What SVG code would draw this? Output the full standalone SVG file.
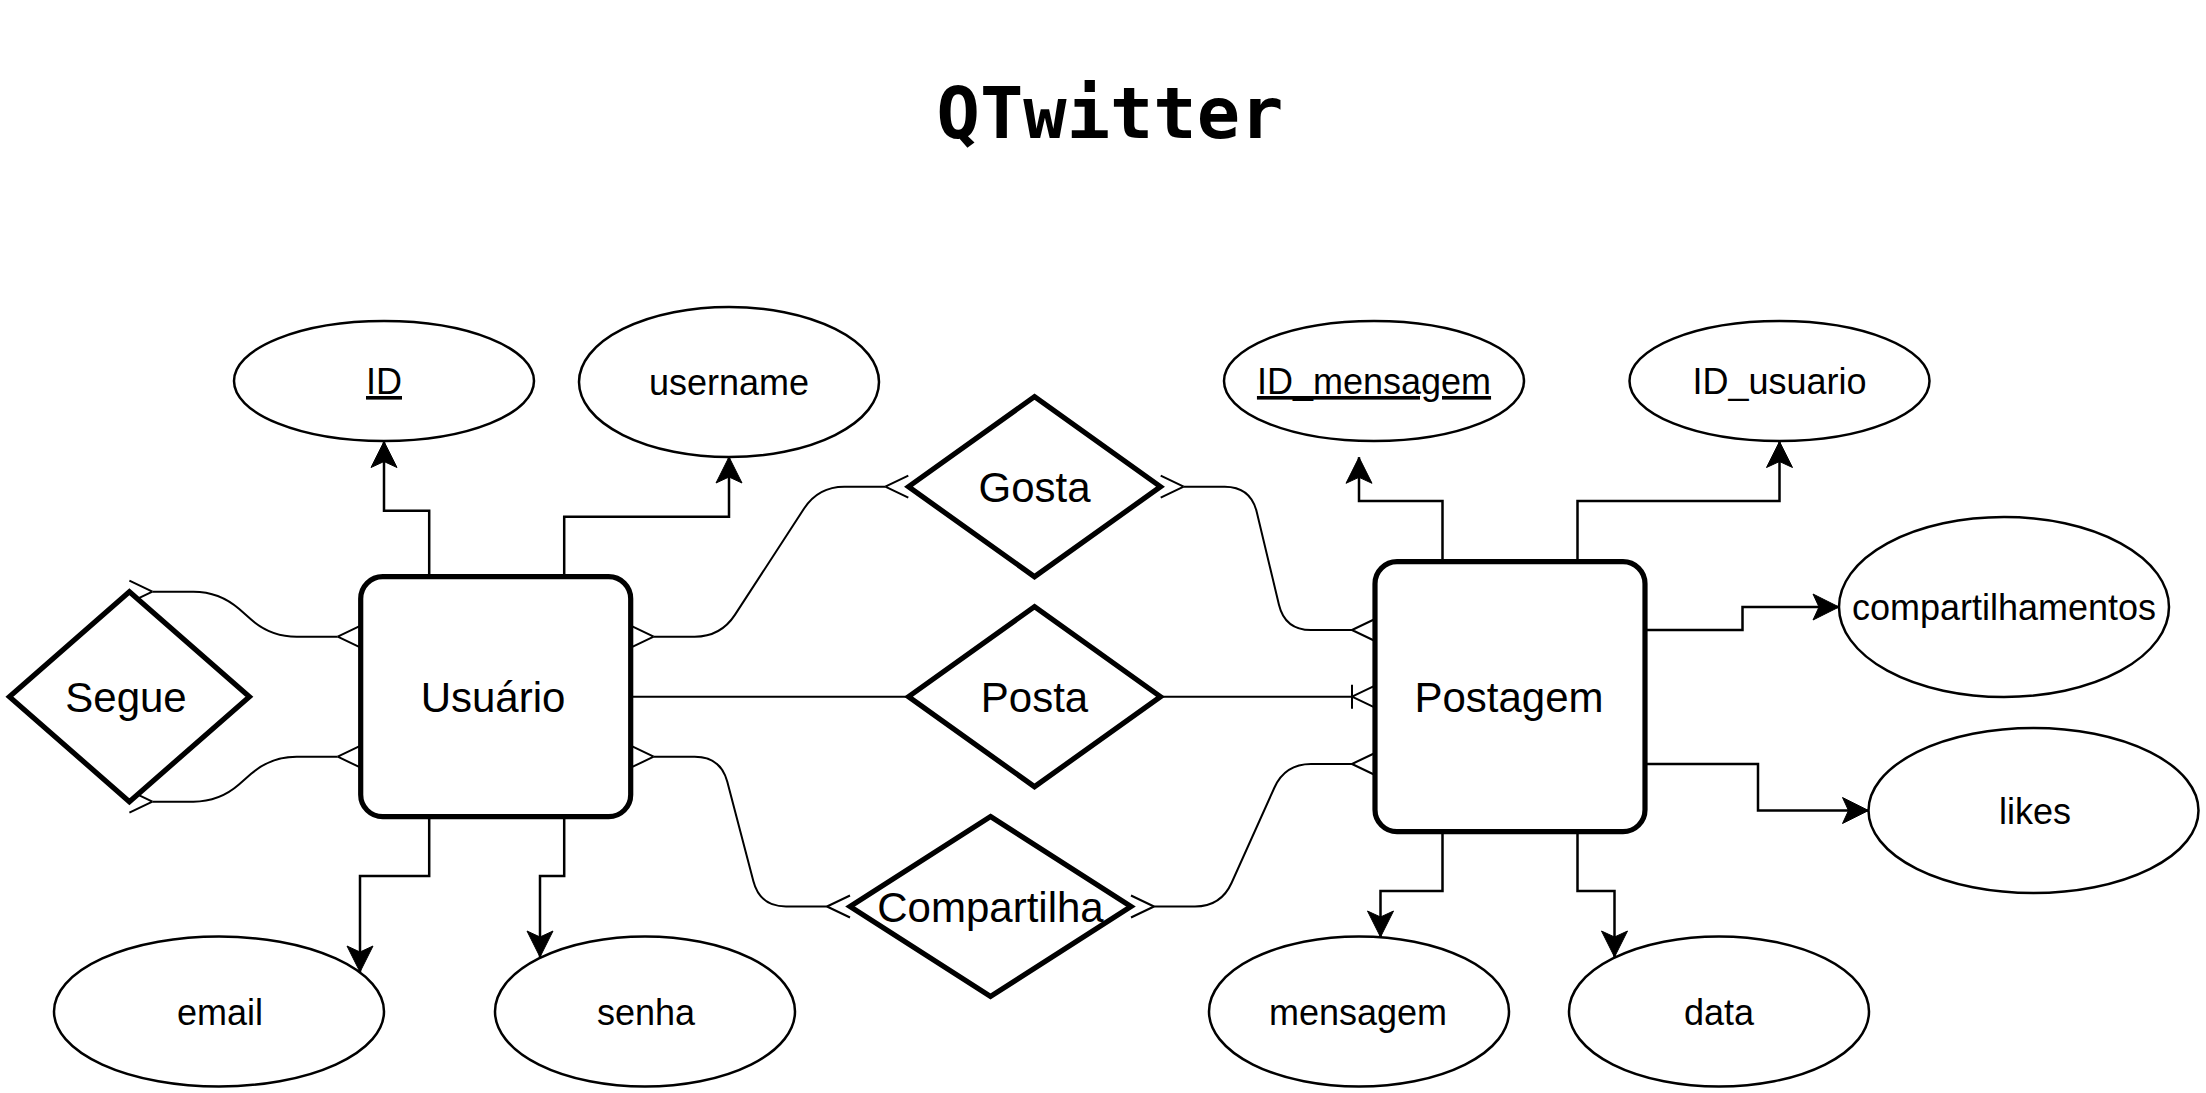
<svg xmlns="http://www.w3.org/2000/svg" width="2206" height="1093" viewBox="0 0 2206 1093">
<style>
.ent{fill:#fff;stroke:#000;stroke-width:5.2}
.rel{fill:#fff;stroke:#000;stroke-width:5.2;stroke-linejoin:miter}
.att{fill:#fff;stroke:#000;stroke-width:2.5}
.t{font-family:"Liberation Sans",Arial,sans-serif;fill:#000;text-anchor:middle}
.big{font-size:42px}
.sm{font-size:36px}
.u{text-decoration:underline}
.er{fill:none;stroke:#000;stroke-width:2}
.ar{fill:none;stroke:#000;stroke-width:2.5;marker-end:url(#arrow)}
.title{font-family:"DejaVu Sans Mono",monospace;font-weight:bold;font-size:72px;text-anchor:middle;fill:#000}
</style>
<defs>
<marker id="arrow" markerUnits="userSpaceOnUse" viewBox="-28 -15 30 30" markerWidth="30" markerHeight="30" refX="0" refY="0" orient="auto" overflow="visible">
<path d="M0,0 L-26,-13 L-20,0 L-26,13 Z" fill="#000" stroke="#000" stroke-width="1"/>
</marker>
<marker id="many" markerUnits="userSpaceOnUse" viewBox="-2 -14 28 28" markerWidth="28" markerHeight="28" refX="0" refY="0" orient="auto-start-reverse" overflow="visible">
<path d="M0,0 L23,-11 M0,0 L23,11" fill="none" stroke="#000" stroke-width="2"/>
</marker>
<marker id="onemany" markerUnits="userSpaceOnUse" viewBox="-2 -14 28 28" markerWidth="28" markerHeight="28" refX="0" refY="0" orient="auto-start-reverse" overflow="visible">
<path d="M0,0 L23,-11 M0,0 L23,11 M0,-12 L0,12" fill="none" stroke="#000" stroke-width="2"/>
</marker>
</defs>
<rect width="2206" height="1093" fill="#fff"/>
<text class="title" x="1110" y="138">QTwitter</text>

<g id="connectors">
<path class="er" marker-start="url(#many)" marker-end="url(#many)" d="M152.4,591.7 L193.4,591.7 Q219.4,591.7 238.95,608.84 L251.15,619.56 Q270.7,636.7 296.7,636.7 L337.7,636.7"/>
<path class="er" marker-start="url(#many)" marker-end="url(#many)" d="M152.4,801.7 L193.4,801.7 Q219.4,801.7 238.95,784.56 L251.15,773.84 Q270.7,756.7 296.7,756.7 L337.7,756.7"/>
<path class="er" marker-start="url(#many)" marker-end="url(#many)" d="M653.7,636.7 L694.7,636.7 Q720.7,636.7 734.9,614.9 L804.1,508.5 Q818.3,486.7 844.3,486.7 L885.3,486.7"/>
<path class="er" marker-start="url(#many)" marker-end="url(#many)" d="M1183.7,486.7 L1224.7,486.7 Q1250.7,486.7 1256.75,511.99 L1278.95,604.71 Q1285,630 1311,630 L1352,630"/>
<path class="er" marker-start="url(#many)" marker-end="url(#many)" d="M653.7,756.7 L694.7,756.7 Q720.7,756.7 727.3,781.85 L753.4,881.35 Q760,906.5 786,906.5 L827,906.5"/>
<path class="er" marker-start="url(#many)" marker-end="url(#many)" d="M1154,906.5 L1195,906.5 Q1221,906.5 1231.65,882.78 L1274.35,787.72 Q1285,764 1311,764 L1352,764"/>
<path class="er" d="M630.7,696.7 L908.5,696.7"/>
<path class="er" marker-end="url(#onemany)" d="M1160.5,696.7 L1352,696.7"/>

<path class="ar" d="M429.2,576.7 L429.2,510.7 L384,510.7 L384,441.5"/>
<path class="ar" d="M564.2,576.7 L564.2,516.7 L729,516.7 L729,457"/>
<path class="ar" d="M429.2,816.7 L429.2,876 L360,876 L360,972"/>
<path class="ar" d="M564.2,816.7 L564.2,876 L540,876 L540,957"/>
<path class="ar" d="M1442.5,561.7 L1442.5,501 L1359,501 L1359,457.3"/>
<path class="ar" d="M1577.5,561.7 L1577.5,501 L1779.5,501 L1779.5,441.5"/>
<path class="ar" d="M1645,630 L1742.5,630 L1742.5,607 L1839,607"/>
<path class="ar" d="M1645,764 L1758,764 L1758,810.5 L1868.5,810.5"/>
<path class="ar" d="M1442.5,831.7 L1442.5,891 L1380.5,891 L1380.5,937"/>
<path class="ar" d="M1577.5,831.7 L1577.5,891 L1614.5,891 L1614.5,957"/>
</g>

<g id="usuario">
<rect class="ent" x="360.7" y="576.7" width="270" height="240" rx="22" ry="22"/>
<text class="t big" x="493" y="712">Usuário</text>
</g>
<g id="postagem">
<rect class="ent" x="1375" y="561.7" width="270" height="270" rx="22" ry="22"/>
<text class="t big" x="1509" y="712">Postagem</text>
</g>

<g id="segue">
<polygon class="rel" points="129.4,591.7 249.4,696.7 129.4,801.7 9.4,696.7"/>
<text class="t big" x="126" y="712">Segue</text>
</g>
<g id="gosta">
<polygon class="rel" points="1034.5,396.7 1160.5,486.7 1034.5,576.7 908.5,486.7"/>
<text class="t big" x="1034.5" y="502">Gosta</text>
</g>
<g id="posta">
<polygon class="rel" points="1034.5,606.7 1160.5,696.7 1034.5,786.7 908.5,696.7"/>
<text class="t big" x="1034.5" y="712">Posta</text>
</g>
<g id="compartilha">
<polygon class="rel" points="990.5,816.5 1131,906.5 990.5,996.5 850,906.5"/>
<text class="t big" x="990.5" y="922">Compartilha</text>
</g>

<g id="attr-id">
<ellipse class="att" cx="384" cy="381" rx="150" ry="60"/>
<text class="t sm u" x="384" y="394">ID</text>
</g>
<g id="attr-username">
<ellipse class="att" cx="729" cy="382" rx="150" ry="75"/>
<text class="t sm" x="729" y="395">username</text>
</g>
<g id="attr-id-mensagem">
<ellipse class="att" cx="1374" cy="381" rx="150" ry="60"/>
<text class="t sm u" x="1374" y="394">ID_mensagem</text>
</g>
<g id="attr-id-usuario">
<ellipse class="att" cx="1779.5" cy="381" rx="150" ry="60"/>
<text class="t sm" x="1779.5" y="394">ID_usuario</text>
</g>
<g id="attr-compartilhamentos">
<ellipse class="att" cx="2004" cy="607" rx="165" ry="90"/>
<text class="t sm" x="2004" y="620">compartilhamentos</text>
</g>
<g id="attr-likes">
<ellipse class="att" cx="2033.5" cy="810.5" rx="165" ry="82.5"/>
<text class="t sm" x="2035" y="824">likes</text>
</g>
<g id="attr-email">
<ellipse class="att" cx="219" cy="1011.5" rx="165" ry="75"/>
<text class="t sm" x="220" y="1025">email</text>
</g>
<g id="attr-senha">
<ellipse class="att" cx="645" cy="1011.5" rx="150" ry="75"/>
<text class="t sm" x="646" y="1025">senha</text>
</g>
<g id="attr-mensagem">
<ellipse class="att" cx="1359" cy="1011.5" rx="150" ry="75"/>
<text class="t sm" x="1358" y="1025">mensagem</text>
</g>
<g id="attr-data">
<ellipse class="att" cx="1719" cy="1011.5" rx="150" ry="75"/>
<text class="t sm" x="1719" y="1025">data</text>
</g>
</svg>
